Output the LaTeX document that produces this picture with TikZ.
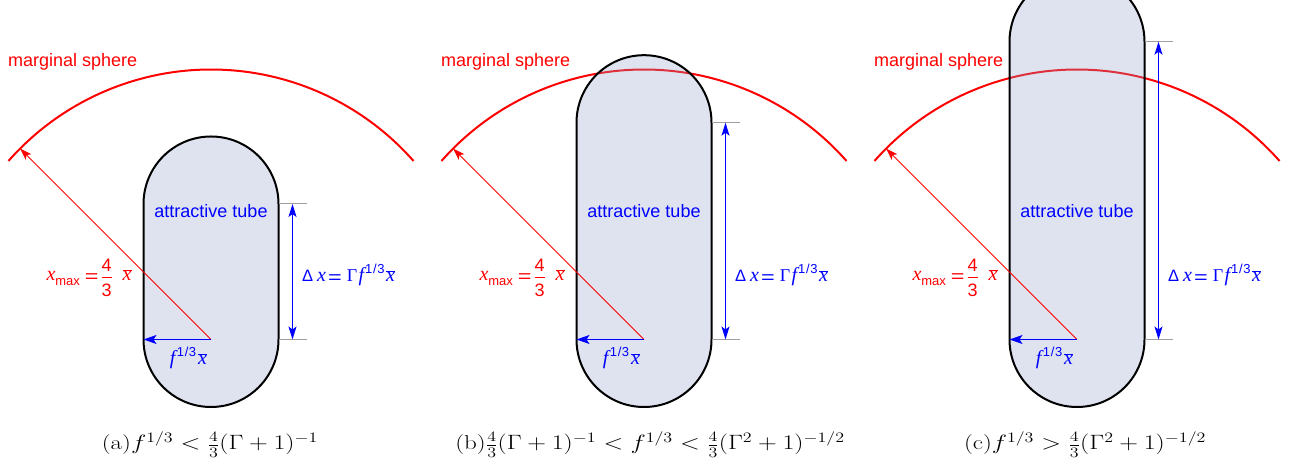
\documentclass[tikz,border=0pt]{standalone}
\usepackage{graphicx}
\usepackage{fontspec}
\newfontfamily\lsans{Liberation Sans}
\newfontfamily\lserif{Liberation Serif}
\usetikzlibrary{arrows.meta,calc}
\definecolor{tubefill}{RGB}{145,162,202}
\newcommand\sfz{\fontsize{20}{20}\selectfont}
\newcommand\vx{{\lserif\itshape\sfz x}}
\newcommand\vf{{\lserif\itshape\sfz f}}
\newcommand\vG{{\lserif\fontsize{18}{18}\selectfont Γ}}
\newcommand\xb{\ensuremath{\overline{\hbox{\lserif\itshape\sfz x}}}}
\newcommand\eqsign{\raisebox{-1.5pt}{\scalebox{1.3}[1]{=}}}
\newcommand\thirdsup{\raisebox{8.5pt}{\fontsize{13}{13}\selectfont 1\kern0.6pt/\kern0.6pt3}}
\newcommand\fourthirds{\raisebox{-1.3pt}{$\vcenter{\offinterlineskip\halign{\hfil##\hfil\cr 4\cr\noalign{\kern5.5pt\hrule height1.3pt\kern5.5pt}3\cr}}$}}
\tikzset{
  sphere/.style={red, line width=2pt},
  tubeshape/.style={draw=black, line width=2pt, fill=tubefill, fill opacity=0.3},
  radarrow/.style={red, line width=0.8pt, -{Stealth[length=12pt,width=8pt,inset=3pt]}},
  bluearrow/.style={blue, line width=1.1pt, -{Stealth[length=13pt,width=9pt,inset=3pt]}},
  deltaarrow/.style={blue, line width=1.1pt, {Stealth[length=13pt,width=8pt,inset=3pt]}-{Stealth[length=13pt,width=8pt,inset=3pt]}},
  tickline/.style={gray!75, line width=1pt},
  lab/.style={inner sep=0pt, font=\lsans\fontsize{18}{20}\selectfont},
  captext/.style={inner sep=0pt, font=\fontsize{20}{24}\selectfont},
}
\begin{document}
\begin{tikzpicture}[x=1pt,y=1pt]
\useasboundingbox (0,0) rectangle (1295,470);
\clip (0,0) rectangle (1295,470);
\foreach \n/\cx/\L in {a/211/135.5, b/644/216.8, c/1077/297.8} {
  \coordinate (O\n) at (\cx,130.5);
  \coordinate (S\n) at ($(O\n)+(138.6:270pt)$);
  \draw[sphere] (S\n) arc[start angle=138.6, end angle=41.4, radius=270pt];
  \draw[tubeshape] ($(O\n)+(-67.5,0)$) -- ++(0,\L)
     arc[start angle=180, end angle=0, radius=67.5pt] -- ++(0,-\L)
     arc[start angle=0, end angle=-180, radius=67.5pt] -- cycle;
  \coordinate (P\n) at ($(O\n)+(135:270pt)$);
  \draw[radarrow] (O\n) -- (P\n);
  \coordinate (E\n) at ($(O\n)+(-67.5,0)$);
  \draw[bluearrow] (O\n) -- (E\n);
  \coordinate (TT\n) at ($(O\n)+(67.5,\L)$);
  \coordinate (TB\n) at ($(O\n)+(67.5,0)$);
  \draw[tickline] (TT\n) -- ++(28,0);
  \draw[tickline] (TB\n) -- ++(28,0);
  \coordinate (DT\n) at ($(O\n)+(81.5,\L)$);
  \coordinate (DB\n) at ($(O\n)+(81.5,0)$);
  \draw[deltaarrow] (DB\n) -- (DT\n);
  \node[lab, red, anchor=west] (ms\n) at ($(O\n)+(-203,277.8)$) {marginal sphere};
  \node[lab, blue] (at\n) at ($(O\n)+(0,128.8)$) {attractive tube};
  \node[lab, red, anchor=base east] (xm\n) at ($(O\n)+(-79.3,58.8)$)
    {\vx\raisebox{-5pt}{\fontsize{13}{13}\selectfont max}\hspace{5pt}\eqsign\hspace{3pt}\fourthirds\hspace{11pt}\xb};
  \node[lab, blue, anchor=base west] (dx\n) at ($(O\n)+(91,57.8)$)
    {{\fontsize{16.5}{17}\selectfont Δ}\hspace{4pt}\vx\hspace{2pt}\eqsign\hspace{5pt}\vG\hspace{1.5pt}\vf\hspace{1pt}\thirdsup\hspace{1.5pt}\xb};
  \node[lab, blue, anchor=base east] (fx\n) at ($(O\n)+(-3.7,-25.5)$)
    {\vf\hspace{1.5pt}\thirdsup\hspace{2pt}\xb};
}
\node[captext, anchor=base] (capa) at (210,20) {\scalebox{1.25}[1]{(a)$f^{1/3} < \frac{4}{3}(\Gamma+1)^{-1}$}};
\node[captext, anchor=base] (capb) at (650,20) {\scalebox{1.25}[1]{(b)$\frac{4}{3}(\Gamma+1)^{-1} < f^{1/3} < \frac{4}{3}(\Gamma^2+1)^{-1/2}$}};
\node[captext, anchor=base] (capc) at (1085,20) {\scalebox{1.25}[1]{(c)$f^{1/3} > \frac{4}{3}(\Gamma^2+1)^{-1/2}$}};
\end{tikzpicture}
\end{document}
